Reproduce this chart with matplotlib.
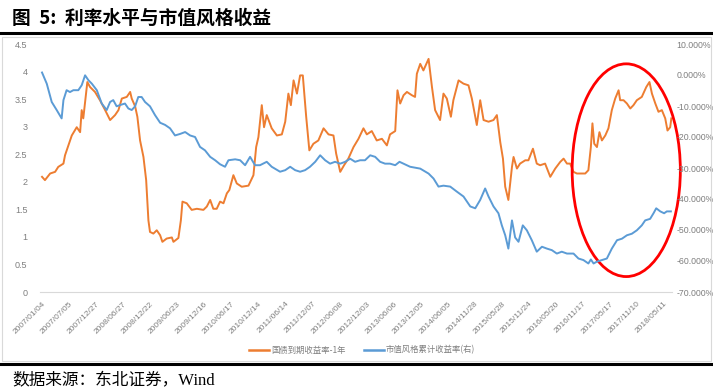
import matplotlib
matplotlib.use("Agg")
import matplotlib.pyplot as plt
from matplotlib.patches import Ellipse, Rectangle
from matplotlib.lines import Line2D

plt.rcParams['font.family'] = ['Noto Sans CJK SC', 'DejaVu Sans']

# trading-day index (0 = 2007/01/04) and values
tick_labels = ['2007/01/04', '2007/07/05', '2007/12/27', '2008/06/27', '2008/12/22',
               '2009/06/23', '2009/12/16', '2010/06/17', '2010/12/14', '2011/06/14',
               '2011/12/07', '2012/06/08', '2012/12/03', '2013/06/06', '2013/12/05',
               '2014/06/05', '2014/11/28', '2015/05/28', '2015/11/24', '2016/05/20',
               '2016/11/17', '2017/05/17', '2017/11/10', '2018/05/11']
tick_step = 120

# 国债到期收益率-1年 (left axis, %)
bond_day = [0, 13, 36, 58, 72, 95, 102, 117, 132, 154, 169, 176, 183, 191, 201, 213, 235, 257,
            280, 302, 324, 339, 354, 376, 391, 398, 413, 423, 435, 450, 462, 472, 479, 494,
            509, 524, 534, 553, 576, 583, 605, 616, 623, 642, 664, 687, 716, 731, 746, 760,
            775, 790, 805, 820, 831,
            849, 864, 886, 916, 938, 950, 960, 975, 985, 997, 1019, 1042, 1064, 1079, 1093,
            1104, 1116, 1131, 1145, 1157, 1172, 1186, 1204, 1226, 1249, 1271, 1293, 1305,
            1323, 1340, 1359, 1382, 1404, 1426, 1441, 1463, 1485, 1508, 1530, 1544, 1567, 1577,
            1589, 1604, 1619, 1641, 1655, 1663, 1678, 1692, 1715, 1730, 1744, 1766, 1781,
            1796, 1814, 1825, 1848, 1870, 1892, 1907, 1929, 1944, 1959, 1981, 2003, 2018,
            2033, 2045, 2055, 2069, 2085, 2092, 2107, 2121, 2144, 2158, 2178, 2195, 2210,
            2232, 2255, 2277, 2299, 2314, 2329,
            2343, 2358, 2373, 2388, 2410, 2424, 2435, 2442, 2450, 2462, 2473, 2484, 2499,
            2513, 2528, 2543, 2558, 2565, 2580, 2595, 2610, 2624, 2639, 2661, 2681, 2695,
            2706, 2721, 2735, 2750, 2765, 2775, 2787, 2792]
bond_yield = [2.09, 2.03, 2.15, 2.18, 2.27, 2.33, 2.48, 2.66, 2.84, 2.99, 2.90, 3.30, 3.15, 3.45,
              3.81, 3.72, 3.63, 3.48, 3.30, 3.12, 3.21, 3.30, 3.51, 3.54, 3.63, 3.51, 3.37,
              3.18, 2.75, 2.45, 2.03, 1.30, 1.09, 1.06, 1.12, 1.03, 0.91, 0.97, 0.99, 0.91,
              0.98, 1.30, 1.64, 1.61, 1.49, 1.51, 1.49, 1.55, 1.67, 1.51, 1.51, 1.64, 1.61,
              1.79, 1.85,
              2.12, 1.97, 1.91, 1.93, 2.12, 2.63, 2.81, 3.39, 2.99, 3.21, 2.97, 2.84, 2.86,
              3.09, 3.60, 3.39, 3.84, 3.60, 3.93, 3.93, 3.18, 2.57, 2.69, 2.75, 2.97, 2.86,
              2.84, 2.51, 2.18, 2.30, 2.42, 2.63, 2.78, 2.97, 2.86, 2.92, 2.75, 2.78, 2.66,
              2.86, 2.92, 3.66,
              3.42, 3.57, 3.63, 3.57, 3.54, 3.96, 4.14, 4.02, 4.23, 3.72, 3.30, 3.12, 3.60,
              3.51, 3.18, 3.48, 3.84, 3.78, 3.75, 3.51, 3.03, 3.48, 3.12, 3.09, 3.12, 3.21,
              2.72, 2.42, 1.91, 1.67, 2.27, 2.45, 2.24, 2.33, 2.39, 2.39, 2.60, 2.33, 2.30,
              2.33, 2.09, 2.24, 2.36, 2.42, 2.33,
              2.33, 2.18, 2.15, 2.15, 2.15, 2.21, 2.63, 3.06, 2.69, 2.63, 2.90, 2.75, 2.84,
              2.97, 3.30, 3.51, 3.66, 3.48, 3.48, 3.42, 3.33, 3.39, 3.48, 3.54, 3.72, 3.81,
              3.60, 3.42, 3.27, 3.30, 3.15, 2.93, 2.99, 3.15]

# 市值风格累计收益率 (right axis, %)
style_day = [0, 21, 43, 65, 87, 95, 109, 124, 139, 161, 176, 191, 206, 221, 243, 265, 287, 302,
             316, 331, 346, 368, 383, 398, 413, 427, 442, 457, 479, 501, 524, 546, 568, 590,
             613, 635, 657, 679, 701, 723, 746, 768, 790, 812, 827,
             857, 879, 901, 923, 945, 967, 997, 1019, 1056, 1079, 1101, 1123, 1145, 1167,
             1189, 1212, 1234, 1256, 1278, 1300, 1323, 1345, 1367, 1389, 1411, 1433, 1456,
             1478, 1500, 1522, 1544, 1567, 1586,
             1633, 1678, 1715, 1737, 1759, 1781, 1811, 1840, 1870, 1900, 1922, 1944, 1966,
             1981, 2003, 2025, 2040, 2055, 2069, 2085, 2099, 2114, 2133, 2151, 2173, 2195,
             2218, 2240, 2262, 2284, 2306,
             2329, 2358, 2380, 2402, 2424, 2435, 2447, 2462, 2484, 2506, 2528, 2551, 2573,
             2595, 2617, 2639, 2661, 2676, 2698, 2713, 2725, 2743, 2760, 2772, 2790]
style_ret = [0.8, -2.8, -8.7, -11.3, -14.0, -8.1, -4.9, -5.5, -4.9, -4.9, -3.3, -0.1, -1.7, -2.8,
             -4.9, -9.2, -11.3, -8.7, -8.1, -10.1, -9.7, -9.2, -10.8, -11.3, -10.1, -7.1, -7.1,
             -8.7, -10.1, -12.9, -15.4, -16.1, -17.2, -19.5, -19.0, -18.4, -19.5, -20.0,
             -23.2, -24.3, -26.4, -27.5, -28.8, -29.6, -27.5,
             -27.2, -27.5, -29.1, -26.4, -29.1, -29.1, -28.0, -29.6, -31.2, -30.7, -29.6,
             -30.7, -31.2, -30.7, -29.6, -28.0, -25.9, -27.5, -28.6, -28.0, -28.6, -28.0,
             -27.0, -28.0, -27.5, -27.5, -25.9, -26.4, -28.0, -28.6, -28.6, -29.1, -28.0,
             -29.6, -30.2, -31.8, -33.4, -36.0, -35.7, -36.0, -37.6, -39.2, -42.4, -43.0,
             -40.3, -36.6, -39.2, -42.4, -44.6, -48.5, -51.7, -56.0, -46.9, -52.4, -53.8,
             -48.5, -50.1, -53.3, -57.0, -55.4, -56.0, -56.5, -57.6, -57.0,
             -57.6, -57.6, -59.2, -59.7, -60.8, -59.5, -60.8, -60.2, -59.7, -59.2, -56.0,
             -53.3, -52.8, -51.7, -51.2, -50.1, -48.5, -46.9, -46.4, -44.6, -43.0, -44.0,
             -44.6, -44.0, -44.0]

W, H = 713, 391
fig = plt.figure(figsize=(W / 100, H / 100), dpi=100)

# frame, rules and captions
fig.patches.append(Rectangle((1.5 / W, 1 - 361 / H), 709 / W, 324 / H, transform=fig.transFigure,
                             fill=False, edgecolor='#d9d9d9', linewidth=0.8))
fig.add_artist(Line2D([0, 1], [1 - 33 / H] * 2, color='black', linewidth=2.2))
fig.add_artist(Line2D([0, 1], [1 - 364 / H] * 2, color='black', linewidth=2.2))
fig.text(12 / W, 1 - 18 / H, '图  5:  利率水平与市值风格收益', fontsize=13.5, fontweight='bold',
         va='center', ha='left')
fig.text(12 / W, 1 - 381 / H, '数据来源：东北证券，Wind', fontsize=12, va='center', ha='left',
         family=['Liberation Serif', 'Noto Sans CJK SC'])

ax = fig.add_axes([40 / W, 1 - 292 / H, 632 / W, 248 / H])
ax2 = ax.twinx()

orange, blue, grey = '#ED7D31', '#5B9BD5', '#7f7f7f'
ax.plot(bond_day, bond_yield, color=orange, linewidth=1.4, label='国债到期收益率-1年')
ax2.plot(style_day, style_ret, color=blue, linewidth=1.4, label='市值风格累计收益率(右)')

ax.set_xlim(-9, 2795)
ax.set_ylim(0, 4.5)
ax2.set_ylim(-70, 10)

ax.set_yticks([i * 0.5 for i in range(10)])
ax.set_yticklabels(['0', '0.5', '1', '1.5', '2', '2.5', '3', '3.5', '4', '4.5'])
ax2.set_yticks(range(-70, 11, 10))
ax2.set_yticklabels([f'{v:.3f}%' for v in range(-70, 11, 10)])

ax.set_xticks([i * tick_step for i in range(len(tick_labels))])
ax.set_xticklabels(tick_labels, rotation=45, ha='right', rotation_mode='anchor')

ax.tick_params(axis='y', length=0, pad=9, labelsize=6.5, labelcolor=grey)
ax.tick_params(axis='x', length=0, pad=6, labelsize=6, labelcolor=grey)
ax2.tick_params(axis='y', length=0, pad=3, labelsize=6.3, labelcolor=grey)
for lab in ax.get_xticklabels() + ax.get_yticklabels() + ax2.get_yticklabels():
    lab.set_family('Liberation Sans')

for a in (ax, ax2):
    for s in a.spines.values():
        s.set_visible(False)
ax.spines['bottom'].set_visible(True)
ax.spines['bottom'].set_color('#d9d9d9')
ax.spines['bottom'].set_linewidth(0.8)

# red ellipse highlighting the recent period
ell = Ellipse((2592, 2.21), 480, 3.86, fill=False, edgecolor='#ff0000', linewidth=2.0,
              clip_on=False, zorder=5)
ax.add_patch(ell)

handles = [Line2D([], [], color=orange, linewidth=1.8), Line2D([], [], color=blue, linewidth=1.8)]
fig.legend(handles, ['国债到期收益率-1年', '市值风格累计收益率(右)'], loc='center',
           bbox_to_anchor=(362 / W, 1 - 350 / H), ncol=2, frameon=False, fontsize=6,
           labelcolor=grey, handlelength=2.4, handletextpad=0.2, columnspacing=2.2)

fig.savefig('out.png', dpi=100)
